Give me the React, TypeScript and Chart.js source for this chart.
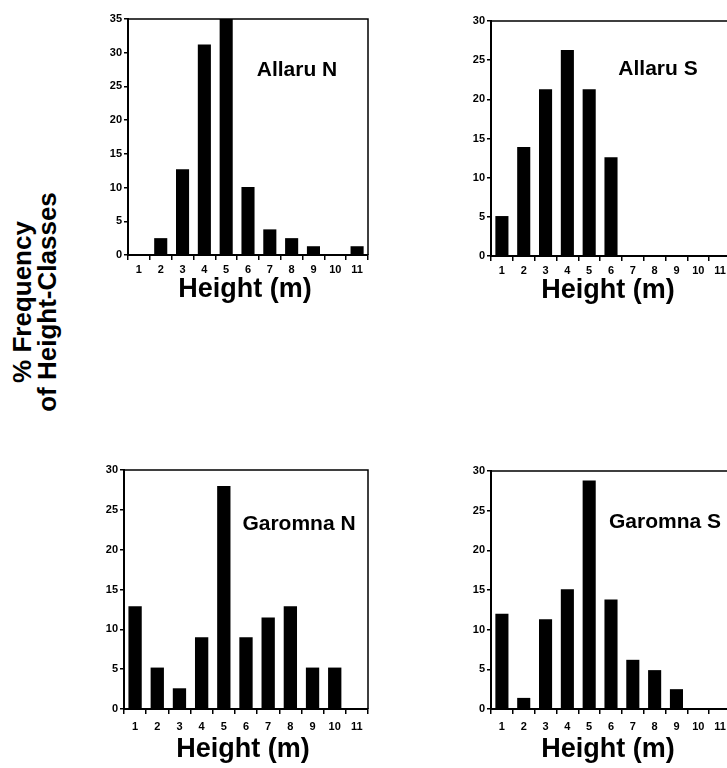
import React, { useEffect, useRef } from 'react';
import { Chart, registerables } from 'chart.js';

Chart.register(...registerables);

// ---- data ----
const heightClasses = ['1', '2', '3', '4', '5', '6', '7', '8', '9', '10', '11'];
const allaruN = [0, 2.5, 12.7, 31.2, 35, 10.1, 3.8, 2.5, 1.3, 0, 1.3];
const allaruS = [5.1, 13.9, 21.3, 26.3, 21.3, 12.6, 0, 0, 0, 0, 0];
const garomnaN = [12.9, 5.2, 2.6, 9.0, 28.0, 9.0, 11.5, 12.9, 5.2, 5.2, 0];
const garomnaS = [12.0, 1.4, 11.3, 15.1, 28.8, 13.8, 6.2, 4.9, 2.5, 0, 0];
const panelNames = ['Allaru N', 'Allaru S', 'Garomna N', 'Garomna S'];
const yMaxes = [35, 30, 30, 30];
const xAxisTitle = 'Height (m)';
const yAxisTitle = '% Frequency\nof Height-Classes';

const TICK_FONT = "'Liberation Sans Narrow', 'Liberation Sans', Arial, sans-serif";
const TEXT_FONT = "'Liberation Sans', Arial, Helvetica, sans-serif";

type PanelLayout = {
  left: number; top: number; right: number; bottom: number;
  nameDx: number; nameDy: number; titleDy: number; labelPad: number;
};

const layouts: PanelLayout[] = [
  { left: 128, top: 19, right: 368, bottom: 255, nameDx: 169, nameDy: 51, titleDy: 35, labelPad: 3 },
  { left: 491, top: 21, right: 731, bottom: 256, nameDx: 167, nameDy: 48, titleDy: 35, labelPad: 3 },
  { left: 124, top: 470, right: 368, bottom: 709, nameDx: 175, nameDy: 54, titleDy: 41, labelPad: 6 },
  { left: 491, top: 471, right: 731, bottom: 709, nameDx: 174, nameDy: 51, titleDy: 41, labelPad: 6 },
];

const PAD_L = 40;
const PAD_R = 8;
const PAD_T = 10;
const X_H = 62;

function Panel({ values, name, yMax, lay }: { values: number[]; name: string; yMax: number; lay: PanelLayout }) {
  const ref = useRef<HTMLCanvasElement | null>(null);
  const w = lay.right - lay.left + PAD_L + PAD_R;
  const h = lay.bottom - lay.top + PAD_T + X_H;

  useEffect(() => {
    if (!ref.current) return;
    const textPlugin = {
      id: 'panelText',
      afterDraw(chart: any) {
        const { ctx, chartArea } = chart;
        ctx.save();
        ctx.strokeStyle = '#000';
        ctx.lineWidth = 1.5;
        ctx.beginPath();
        ctx.moveTo(chartArea.left, chartArea.top);
        ctx.lineTo(chartArea.right, chartArea.top);
        ctx.lineTo(chartArea.right, chartArea.bottom);
        ctx.stroke();
        ctx.fillStyle = '#000';
        ctx.textAlign = 'center';
        ctx.textBaseline = 'middle';
        ctx.font = `bold 21px ${TEXT_FONT}`;
        ctx.fillText(name, chartArea.left + lay.nameDx, chartArea.top + lay.nameDy);
        ctx.font = `bold 27px ${TEXT_FONT}`;
        ctx.fillText(xAxisTitle, (chartArea.left + chartArea.right) / 2 - 3, chartArea.bottom + lay.titleDy);
        ctx.restore();
      },
    };
    const chart = new Chart(ref.current, {
      type: 'bar',
      data: {
        labels: heightClasses,
        datasets: [
          {
            data: values,
            backgroundColor: '#000',
            borderWidth: 0,
            barPercentage: 0.6,
            categoryPercentage: 1,
          },
        ],
      },
      options: {
        responsive: false,
        animation: false,
        devicePixelRatio: 1,
        layout: { padding: { top: PAD_T, right: PAD_R, left: 0, bottom: 0 } },
        plugins: { legend: { display: false }, tooltip: { enabled: false }, title: { display: false } },
        scales: {
          x: {
            grid: { offset: true, drawOnChartArea: false, drawTicks: true, tickLength: 5, color: '#000', lineWidth: 1.5 },
            border: { display: true, color: '#000', width: 2 },
            ticks: {
              color: '#000',
              font: { family: TICK_FONT, size: 11, weight: 'bold' },
              padding: lay.labelPad,
              maxRotation: 0,
              autoSkip: false,
            },
            afterFit: (s: any) => { s.height = X_H; },
          },
          y: {
            min: 0,
            max: yMax,
            ticks: { stepSize: 5, color: '#000', font: { family: TICK_FONT, size: 11, weight: 'bold' }, padding: 2 },
            grid: { drawOnChartArea: false, tickLength: 4, color: '#000', lineWidth: 1.5 },
            border: { display: true, color: '#000', width: 2 },
            afterFit: (s: any) => { s.width = PAD_L; },
          },
        },
      } as any,
      plugins: [textPlugin],
    });
    return () => chart.destroy();
  }, []);

  return (
    <canvas
      ref={ref}
      width={w}
      height={h}
      style={{ position: 'absolute', left: lay.left - PAD_L, top: lay.top - PAD_T, width: w, height: h }}
    />
  );
}

export default function App() {
  const series = [allaruN, allaruS, garomnaN, garomnaS];
  return (
    <div style={{ position: 'absolute', left: 0, top: 0, width: 727, height: 768, overflow: 'hidden', background: '#fff' }}>
      {series.map((s, i) => (
        <Panel key={i} values={s} name={panelNames[i]} yMax={yMaxes[i]} lay={layouts[i]} />
      ))}
      <div
        style={{
          position: 'absolute',
          left: 35,
          top: 302,
          transform: 'translate(-50%, -50%) rotate(-90deg)',
          whiteSpace: 'pre',
          textAlign: 'center',
          fontFamily: TEXT_FONT,
          fontWeight: 'bold',
          fontSize: 26,
          lineHeight: '25px',
          color: '#000',
        }}
      >
        {yAxisTitle}
      </div>
    </div>
  );
}
